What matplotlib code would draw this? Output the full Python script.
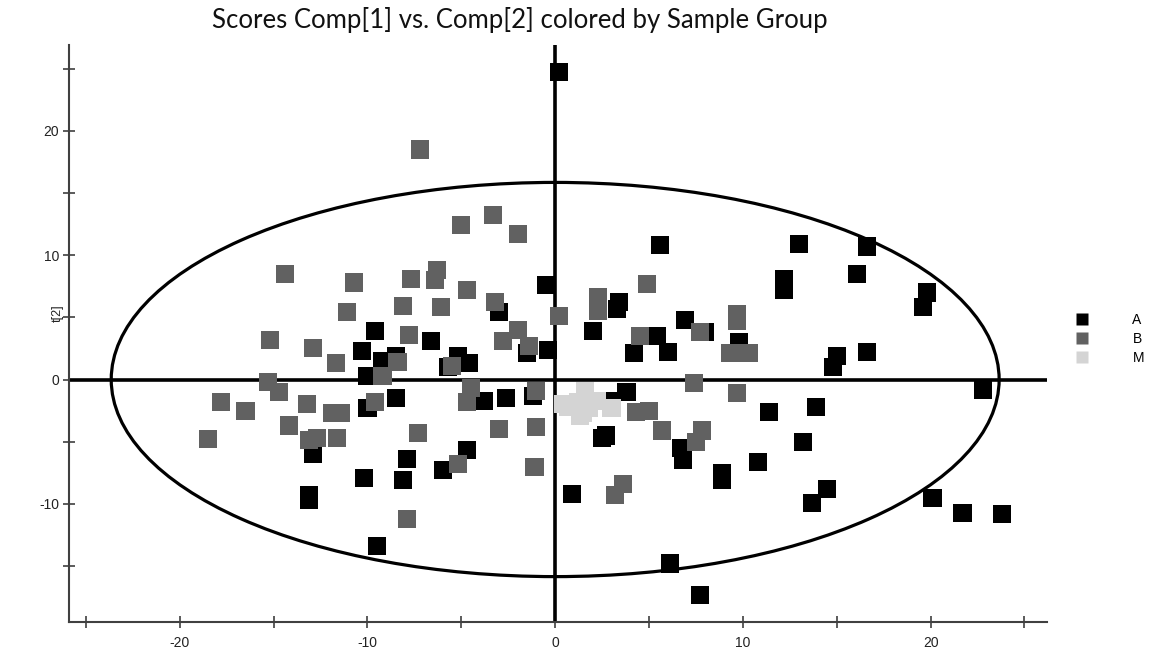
import matplotlib
matplotlib.use("Agg")
import matplotlib.pyplot as plt
from matplotlib.patches import Ellipse
from matplotlib.lines import Line2D

plt.rcParams['axes.unicode_minus'] = False
plt.rcParams['font.family'] = ['Liberation Sans', 'DejaVu Sans']

# ---- data (t[1], t[2]) ----
a_x = [0.2, 5.6, 13.0, 16.6, 12.2, 12.2, 16.1, 19.8, 19.6, -0.5, 3.4, 3.3, 2.0, 5.4, 6.9,
       8.0, 9.8, 4.2, 6.0, 15.0, 14.8, 16.6, 22.8, 3.8, 3.0, 2.7, 2.5, 6.7, 6.8, 10.8,
       8.9, 8.9, 13.2, 13.9, 11.4, 14.5, 13.7, 20.1, 21.7, 23.8, 0.9, 6.1, 7.7, -3.0,
       -6.6, -5.2, -4.6, -5.7, -1.5, -0.4, -3.8, -2.6, -1.2, -4.7, -6.0, -9.6, -10.3,
       -8.5, -9.2, -10.0, -10.0, -8.5, -12.9, -10.2, -7.9, -8.1, -13.1, -13.1, -9.5]
a_y = [24.7, 10.8, 10.9, 10.7, 8.1, 7.2, 8.5, 7.0, 5.8, 7.6, 6.2, 5.7, 3.9, 3.5, 4.8,
       3.8, 3.0, 2.1, 2.2, 1.9, 1.0, 2.2, -0.8, -1.0, -1.7, -4.5, -4.7, -5.5, -6.5, -6.6,
       -7.5, -8.1, -5.0, -2.2, -2.6, -8.8, -9.9, -9.5, -10.7, -10.8, -9.2, -14.8, -17.3, 5.4,
       3.1, 1.9, 1.3, 1.0, 2.1, 2.4, -1.7, -1.5, -1.3, -5.7, -7.3, 3.9, 2.3,
       1.9, 1.5, 0.3, -2.3, -1.5, -6.0, -7.9, -6.4, -8.1, -9.3, -9.7, -13.4]

b_x = [-7.2, -5.0, -3.3, -2.0, -14.4, -10.7, -7.7, -6.3, -6.4, -4.7, -11.1, -8.1, -6.1,
       -3.2, -2.0, -2.8, -1.4, 0.2, -7.8, -15.2, -12.9, -11.7, -8.4, -9.2, -5.5, -15.3,
       -14.7, -17.8, -16.5, -13.2, -11.9, -11.4, -9.6, -4.5, -4.7, -1.0, -14.2, -18.5,
       -13.1, -12.7, -11.6, -7.3, -3.0, -1.0, -5.2, -1.1, -7.9, 2.3, 2.3, 4.9, 4.5, 7.7,
       9.7, 9.7, 9.3, 10.3, 7.4, 9.7, 4.3, 5.0, 5.7, 7.8, 7.5, 3.6, 3.2]
b_y = [18.5, 12.4, 13.2, 11.7, 8.5, 7.8, 8.1, 8.8, 8.0, 7.2, 5.4, 5.9, 5.8,
       6.2, 4.0, 3.1, 2.7, 5.1, 3.6, 3.2, 2.5, 1.3, 1.4, 0.3, 1.1, -0.2,
       -1.0, -1.8, -2.5, -2.0, -2.7, -2.7, -1.8, -0.7, -1.8, -0.9, -3.7, -4.8,
       -4.9, -4.7, -4.7, -4.3, -4.0, -3.8, -6.8, -7.0, -11.2, 6.6, 5.5, 7.7, 3.5, 3.8,
       5.3, 4.7, 2.1, 2.1, -0.3, -1.1, -2.6, -2.5, -4.1, -4.1, -5.0, -8.4, -9.3]

m_x = [1.6, 0.7, 1.5, 2.2, 3.0, 1.2, 1.8, 0.4, 1.3]
m_y = [-0.9, -2.2, -2.7, -1.7, -2.3, -1.8, -2.3, -2.0, -2.9]

groups = ['A', 'B', 'M']
group_colors = ['#000000', '#616161', '#d4d4d4']

ellipse_a = 23.65
ellipse_b = 15.85

x_ticks = list(range(-25, 30, 5))
y_ticks = list(range(-15, 30, 5))

fig = plt.figure(figsize=(11.49, 6.57), dpi=100)
ax = fig.add_axes([69 / 1149, 1 - 622 / 657, (1047 - 69) / 1149, (622 - 45) / 657])

ax.set_xlim(-25.9, 26.2)
ax.set_ylim(-19.5, 26.9)

ms = 170
for gx, gy, c in zip([a_x, b_x, m_x], [a_y, b_y, m_y], group_colors):
    ax.scatter(gx, gy, marker='s', s=ms, color=c, edgecolors='none', zorder=3)

ax.axhline(0, color='black', lw=2.6, zorder=2)
ax.axvline(0, color='black', lw=2.6, zorder=2)
ax.add_patch(Ellipse((0, 0), 2 * ellipse_a, 2 * ellipse_b, fill=False,
                     edgecolor='black', lw=2.3, zorder=2))

for s in ['top', 'right']:
    ax.spines[s].set_visible(False)
for s in ['left', 'bottom']:
    ax.spines[s].set_color('#404040')
    ax.spines[s].set_linewidth(1.5)

ax.set_xticks(x_ticks)
ax.set_xticklabels([str(t) if t % 10 == 0 and abs(t) < 25 else '' for t in x_ticks])
ax.set_yticks(y_ticks)
ax.set_yticklabels([str(t) if t % 10 == 0 else '' for t in y_ticks])
ax.tick_params(direction='inout', length=8, width=1.2, color='#404040',
               labelsize=10, labelcolor='#222222')
ax.tick_params(axis='x', pad=6)
ax.tick_params(axis='y', pad=3)

fig.text(58 / 1149, 1 - 313 / 657, 't[2]', rotation=90, ha='center', va='center',
         fontsize=9, color='#222222')

fig.text(520 / 1149, 1 - 20 / 657, 'Scores Comp[1] vs. Comp[2] colored by Sample Group',
         ha='center', va='center', fontsize=18.5, color='#111111', family='Lato')

handles = [Line2D([], [], marker='s', linestyle='none', markersize=9,
                  markerfacecolor=c, markeredgecolor='none') for c in group_colors]
fig.legend(handles, groups, loc='center left',
           bbox_to_anchor=(1063 / 1149, 1 - 339 / 657), frameon=False,
           handlelength=2.0, handletextpad=2.6, labelspacing=0.35, fontsize=10,
           markerfirst=True, borderaxespad=0, borderpad=0.4)

fig.savefig('out.png', dpi=100)
